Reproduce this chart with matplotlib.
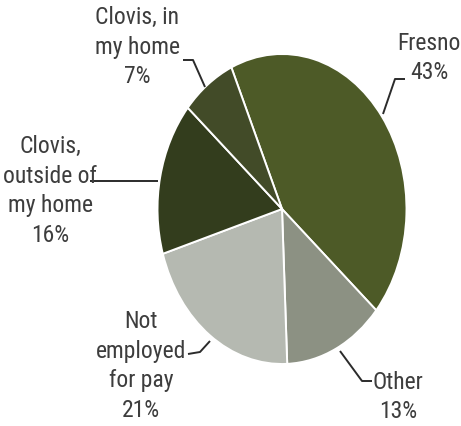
import os
import matplotlib
matplotlib.use("Agg")
import matplotlib.pyplot as plt
from matplotlib import font_manager
from matplotlib.font_manager import FontProperties

# Share of respondents by work location
labels = ["Fresno", "Other", "Not\nemployed\nfor pay", "Clovis,\noutside of\nmy home", "Clovis, in\nmy home"]
values = [43, 13, 21, 16, 7]
colors = ["#4d5a27", "#8c9183", "#b5b9b1", "#333d1d", "#424b28"]


def narrow_font():
    files = font_manager.findSystemFonts()
    prefs = ["LiberationSansNarrow-Regular", "RobotoCondensed-Regular",
             "DejaVuSansCondensed.", "OpenSans_Condensed-Regular",
             "NotoSans-Condensed", "Condensed-Regular", "Narrow-Regular"]
    for p in prefs:
        for f in files:
            if p.lower() in os.path.basename(f).lower():
                return FontProperties(fname=f, size=17)
    return FontProperties(family="Roboto", size=15)


fp = narrow_font()

W, H = 461, 427
fig = plt.figure(figsize=(W / 100, H / 100), dpi=100)
ax = fig.add_axes([0, 0, 1, 1])

ax.pie(values, colors=colors, startangle=114, counterclock=False,
       wedgeprops=dict(edgecolor="white", linewidth=1.4))

# Pixel mapping: pie center and radii in pixels
cx, cy, rx, ry = 282, 210, 124.5, 155
ax.set_aspect("auto")
ax.set_xlim(-cx / rx, (W - cx) / rx)
ax.set_ylim(-(H - cy) / ry, cy / ry)


def P(x, y):
    return ((x - cx) / rx, (cy - y) / ry)


txt = dict(color="#3d3d3d", ha="center", va="center",
           fontproperties=fp, linespacing=1.38)

texts = {
    "Fresno": (429, 58),
    "Other": (398, 397),
    "Not\nemployed\nfor pay": (141, 366),
    "Clovis,\noutside of\nmy home": (50, 191),
    "Clovis, in\nmy home": (137, 47),
}
for lab, v in zip(labels, values):
    x, y = texts[lab]
    ax.text(*P(x, y), f"{lab}\n{v}%", **txt)

leaders = [
    [(405, 80), (395, 80), (383, 115)],
    [(372, 382), (362, 382), (340, 352)],
    [(188, 355), (200, 353), (210, 342)],
    [(90, 182), (158, 182)],
    [(183, 61), (193, 61), (205, 88)],
]
for pts in leaders:
    xs, ys = zip(*[P(x, y) for x, y in pts])
    ax.plot(xs, ys, color="#2b2b2b", lw=1.4, solid_capstyle="butt")

ax.axis("off")
fig.savefig("out.png", dpi=100)
